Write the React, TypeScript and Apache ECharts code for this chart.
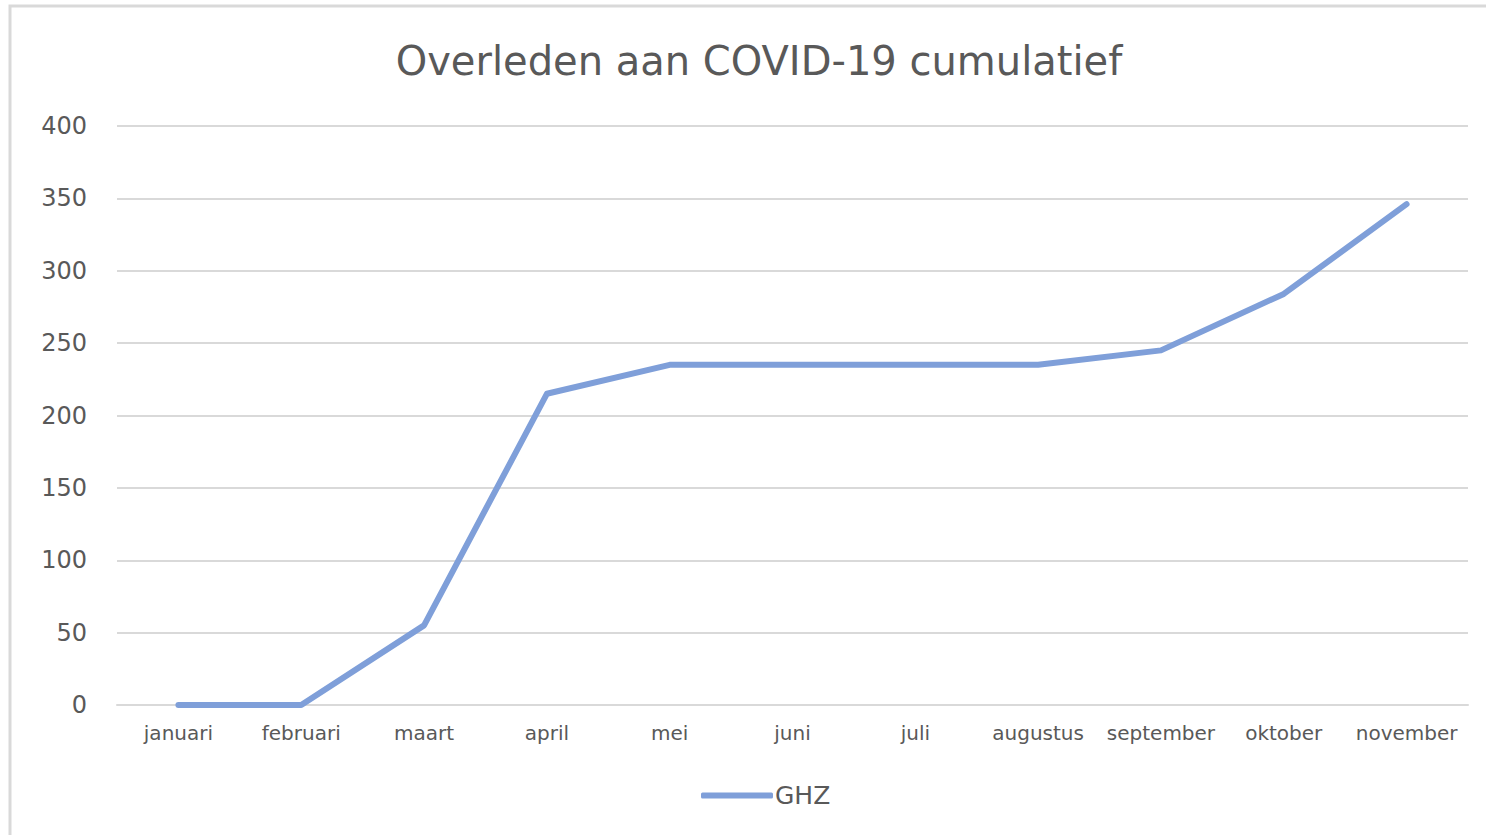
import React, { useEffect, useRef } from "react";
import * as echarts from "echarts";

const title = "Overleden aan COVID-19 cumulatief";
const months = ["januari", "februari", "maart", "april", "mei", "juni", "juli", "augustus", "september", "oktober", "november"];
const ghz = [0, 0, 55, 215, 235, 235, 235, 235, 245, 284, 346];
const seriesName = "GHZ";
const yTicks = { min: 0, max: 400, interval: 50 };

export default function App() {
  const ref = useRef<HTMLDivElement>(null);
  useEffect(() => {
    document.body.style.margin = "0";
    const chart = echarts.init(ref.current!, null, { renderer: "svg" });
    const font = "'DejaVu Sans', sans-serif";
    chart.setOption({
      animation: false,
      backgroundColor: "#ffffff",
      title: {
        text: title,
        left: 754,
        textAlign: "center",
        top: 36,
        textStyle: { fontFamily: font, fontSize: 40, fontWeight: "normal", color: "#595959" },
      },
      graphic: [
        {
          type: "rect",
          shape: { x: 10, y: 6, width: 1500, height: 900 },
          style: { fill: "none", stroke: "#d9d9d9", lineWidth: 3 },
          silent: true,
        },
      ],
      legend: {
        data: [seriesName],
        top: 778,
        left: 696,
        icon: "roundRect",
        itemWidth: 72,
        itemHeight: 6,
        textStyle: { fontFamily: font, fontSize: 25, color: "#595959", padding: [0, 0, 0, -3] },
      },
      grid: { left: 117, right: 18, top: 126, bottom: 130 },
      xAxis: {
        type: "category",
        data: months,
        boundaryGap: true,
        axisLine: { lineStyle: { color: "#d9d9d9", width: 2 } },
        axisTick: { show: false },
        axisLabel: { fontFamily: font, fontSize: 20, color: "#595959", margin: 18, interval: 0 },
      },
      yAxis: {
        type: "value",
        min: yTicks.min,
        max: yTicks.max,
        interval: yTicks.interval,
        axisLine: { show: false },
        axisTick: { show: false },
        splitLine: { lineStyle: { color: "#d9d9d9", width: 2 } },
        axisLabel: { fontFamily: font, fontSize: 24, color: "#595959", margin: 30 },
      },
      series: [
        {
          name: seriesName,
          type: "line",
          data: ghz,
          showSymbol: false,
          symbol: "none",
          itemStyle: { color: "#7F9FD9" },
          lineStyle: { color: "#7F9FD9", width: 6, cap: "round", join: "round" },
        },
      ],
    });
    return () => chart.dispose();
  }, []);
  return <div ref={ref} style={{ position: "fixed", left: 0, top: 0, width: 1486, height: 835 }} />;
}
